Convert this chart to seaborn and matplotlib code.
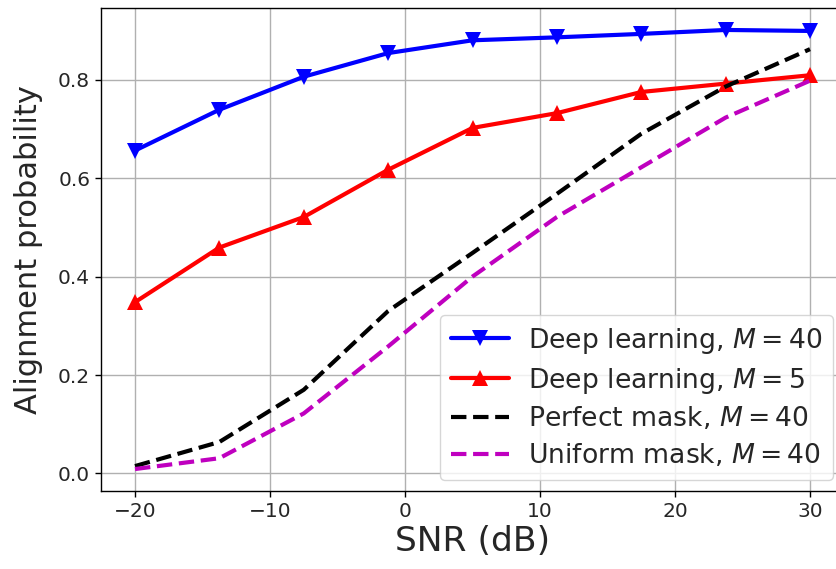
import matplotlib
matplotlib.use("Agg")
import matplotlib.pyplot as plt
import seaborn as sns
import pandas as pd

snr = [-20, -13.75, -7.5, -1.25, 5, 11.25, 17.5, 23.75, 30]
dl_m40 = [0.656, 0.739, 0.806, 0.854, 0.880, 0.886, 0.893, 0.901, 0.899]
dl_m5 = [0.348, 0.459, 0.521, 0.617, 0.702, 0.732, 0.775, 0.792, 0.809]
perfect_m40 = [0.015, 0.064, 0.170, 0.330, 0.448, 0.568, 0.690, 0.786, 0.862]
uniform_m40 = [0.009, 0.031, 0.122, 0.258, 0.400, 0.521, 0.622, 0.723, 0.798]

labels = [r"Deep learning, $M=40$", r"Deep learning, $M=5$",
          r"Perfect mask, $M=40$", r"Uniform mask, $M=40$"]
xticks = [-20, -10, 0, 10, 20, 30]
yticks = [0.0, 0.2, 0.4, 0.6, 0.8]

sns.set_style("ticks")
plt.rcParams["font.family"] = ["DejaVu Sans"]
plt.rcParams["mathtext.fontset"] = "dejavusans"

W, H = 836, 569
fig = plt.figure(figsize=(W / 100, H / 100), dpi=100)
ax_left = 101.25
ax_w = 742.5
ax_top = 8
ax_bot = 491
ax = fig.add_axes([ax_left / W, 1 - ax_bot / H, ax_w / W, (ax_bot - ax_top) / H])

series = [
    (dl_m40, "#0000ff", "v", "-"),
    (dl_m5, "#ff0000", "^", "-"),
    (perfect_m40, "#000000", None, "--"),
    (uniform_m40, "#bf00bf", None, "--"),
]
for (vals, col, mk, ls), lab in zip(series, labels):
    df = pd.DataFrame({"snr": snr, "p": vals})
    kw = dict(marker=mk, markersize=11) if mk else {}
    sns.lineplot(data=df, x="snr", y="p", ax=ax, color=col, linestyle=ls,
                 linewidth=3, label=lab, sort=False, errorbar=None,
                 markeredgewidth=0, **kw)

ax.set_xlim(-22.5, 32.5)
ax.set_ylim(-0.0356, 0.9456)
ax.set_xticks(xticks)
ax.set_yticks(yticks)
ax.grid(True, color="#b0b0b0", linewidth=1.0)
ax.set_axisbelow(True)
for s in ax.spines.values():
    s.set_color("black")
    s.set_linewidth(1.0)
ax.tick_params(axis="both", labelsize=14.5, length=4.5, width=1.0, color="black",
               direction="out")
ax.set_xlabel("SNR (dB)", fontsize=24.8, labelpad=3)
ax.set_ylabel("Alignment probability", fontsize=22, labelpad=11)

leg = ax.legend(loc="lower right", bbox_to_anchor=(833 / W, 1 - 480 / H),
                bbox_transform=fig.transFigure, fontsize=19.2, handlelength=2.2,
                handletextpad=0.7, labelspacing=0.37,
                borderaxespad=0.0, framealpha=0.8, edgecolor="#cccccc",
                fancybox=True)

fig.savefig("out.png", dpi=100)
